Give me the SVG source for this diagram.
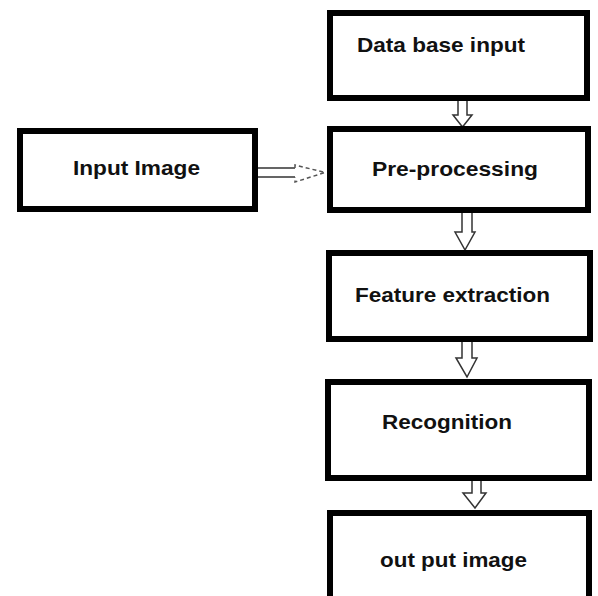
<svg xmlns="http://www.w3.org/2000/svg" width="598" height="596" viewBox="0 0 598 596">
<style>
.box{fill:#fff;stroke:#000;stroke-width:6}
.lbl{font-family:"Liberation Sans",Arial,sans-serif;font-weight:bold;font-size:21px;fill:#111}
.arr{fill:#fff;stroke:#333;stroke-width:1.5;stroke-linejoin:miter}
.dash{fill:#fff;stroke:#555;stroke-width:1.5;stroke-dasharray:4 3}
</style>
<rect width="598" height="596" fill="#fff"/>
<g id="connectors">
<path class="arr" d="M458,101 V115 H453 L462.5,127 L472,115 H467 V101"/>
<path class="arr" d="M462,213 V232 H455 L465,250 L475,232 H472 V213"/>
<path class="arr" d="M462,342 V358 H456 L467,377 L477,358 H472 V342"/>
<path class="arr" d="M472,481 V493 H463 L475,508 L486,493 H481 V481"/>
<path class="arr" d="M258,168 H295 M258,177 H295"/>
<path class="dash" d="M295,168 V165 L325,172.5 L295,182 V177"/>
</g>
<g id="node-database">
<rect class="box" x="330" y="13" width="257" height="85"/>
<text class="lbl" x="357" y="52" textLength="168" lengthAdjust="spacingAndGlyphs">Data base input</text>
</g>
<g id="node-input">
<rect class="box" x="20" y="131" width="235" height="78"/>
<text class="lbl" x="73" y="175" textLength="127" lengthAdjust="spacingAndGlyphs">Input Image</text>
</g>
<g id="node-preprocessing">
<rect class="box" x="330" y="129" width="258" height="81"/>
<text class="lbl" x="372" y="176" textLength="166" lengthAdjust="spacingAndGlyphs">Pre-processing</text>
</g>
<g id="node-feature">
<rect class="box" x="329" y="253" width="261" height="86"/>
<text class="lbl" x="355" y="302" textLength="195" lengthAdjust="spacingAndGlyphs">Feature extraction</text>
</g>
<g id="node-recognition">
<rect class="box" x="328" y="382" width="261" height="96"/>
<text class="lbl" x="382" y="429" textLength="130" lengthAdjust="spacingAndGlyphs">Recognition</text>
</g>
<g id="node-output">
<rect class="box" x="330" y="513" width="259" height="92"/>
<text class="lbl" x="380" y="567" textLength="147" lengthAdjust="spacingAndGlyphs">out put image</text>
</g>
</svg>
